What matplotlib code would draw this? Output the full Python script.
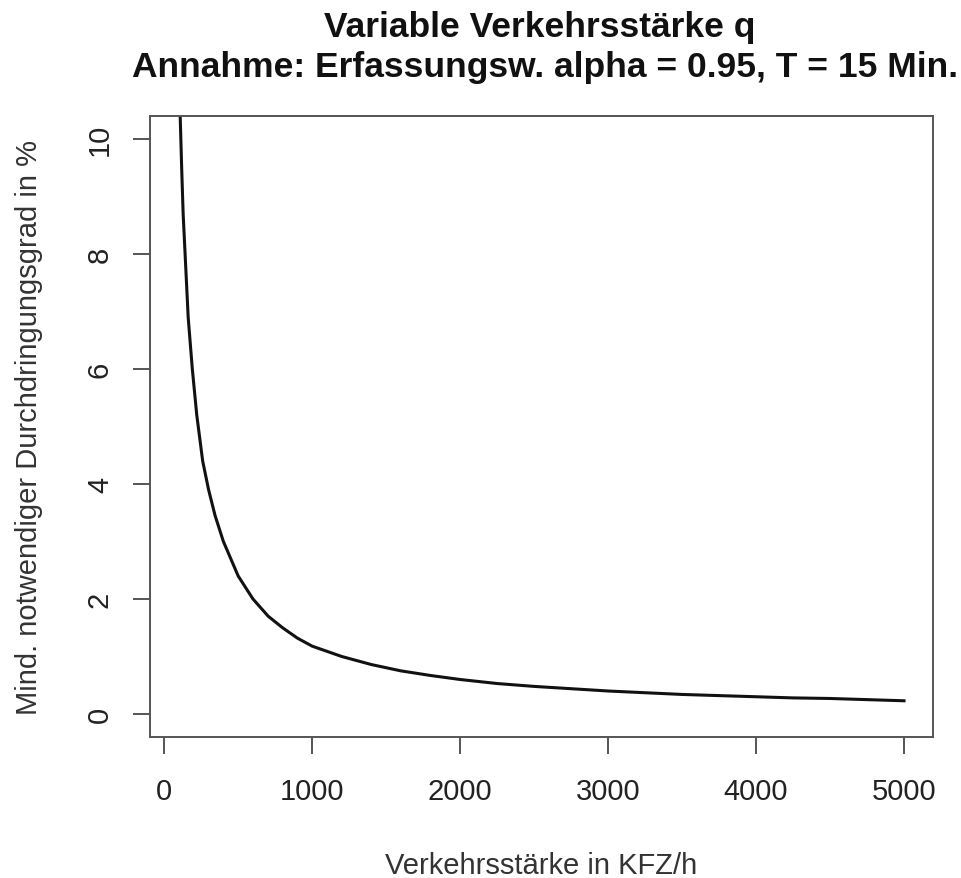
import matplotlib
matplotlib.use("Agg")
import matplotlib.pyplot as plt

# Data (traffic volume vs. minimal penetration rate)
verkehrsstaerke = [100, 108, 118, 128, 145, 162, 190, 220, 260, 300, 344, 400,
                   500, 600, 703, 800, 900, 1000, 1200, 1400, 1600, 1800, 2000,
                   2250, 2500, 2750, 3000, 3250, 3500, 3750, 4000, 4250, 4500,
                   4750, 5000]
durchdringung = [11.0, 10.4, 9.5, 8.7, 7.8, 6.9, 6.0, 5.2, 4.4, 3.9, 3.45, 3.0,
                 2.4, 2.0, 1.70, 1.5, 1.32, 1.18, 1.0, 0.86, 0.75, 0.67, 0.6,
                 0.53, 0.48, 0.44, 0.40, 0.37, 0.34, 0.32, 0.30, 0.28, 0.27,
                 0.25, 0.23]
x_ticks = [0, 1000, 2000, 3000, 4000, 5000]
y_ticks = [0, 2, 4, 6, 8, 10]

plt.rcParams['font.family'] = ['Liberation Sans', 'DejaVu Sans']

fig = plt.figure(figsize=(9.62, 8.79), dpi=100)
ax = fig.add_axes([150/962, 1-738/879, (933-150)/962, (738-117)/879])

ax.plot(verkehrsstaerke, durchdringung, color='#111111', lw=2.2)
ax.set_xlim(-96, 5196)
ax.set_ylim(-0.4, 10.4)

ax.set_xticks(x_ticks)
ax.set_yticks(y_ticks)
ax.set_xticklabels([str(v) for v in x_ticks], fontsize=21, color='#222222')
ax.set_yticklabels([str(v) for v in y_ticks], fontsize=21, color='#222222',
                   rotation=90, va='center')
ax.tick_params(axis='both', length=12, width=1.4, color='#555555')
ax.tick_params(axis='x', pad=17)
ax.tick_params(axis='y', pad=14)
for s in ax.spines.values():
    s.set_color('#555555')
    s.set_linewidth(1.4)

ax.set_xlabel('Verkehrsstärke in KFZ/h', fontsize=21, color='#333333', labelpad=33)
ax.set_ylabel('Mind. notwendiger Durchdringungsgrad in %', fontsize=21,
              color='#333333', labelpad=31)

cx = (150 + 933) / 2 / 962 - 0.002
fig.text(cx, 1-27/879, 'Variable Verkehrsstärke q', ha='center',
         va='center', fontsize=25.5, fontweight='bold', color='#111111')
fig.text(cx + 0.006, 1-68/879,
         'Annahme: Erfassungsw. alpha = 0.95, T = 15 Min.', ha='center',
         va='center', fontsize=25.5, fontweight='bold', color='#111111')

fig.savefig('out.png', dpi=100)
